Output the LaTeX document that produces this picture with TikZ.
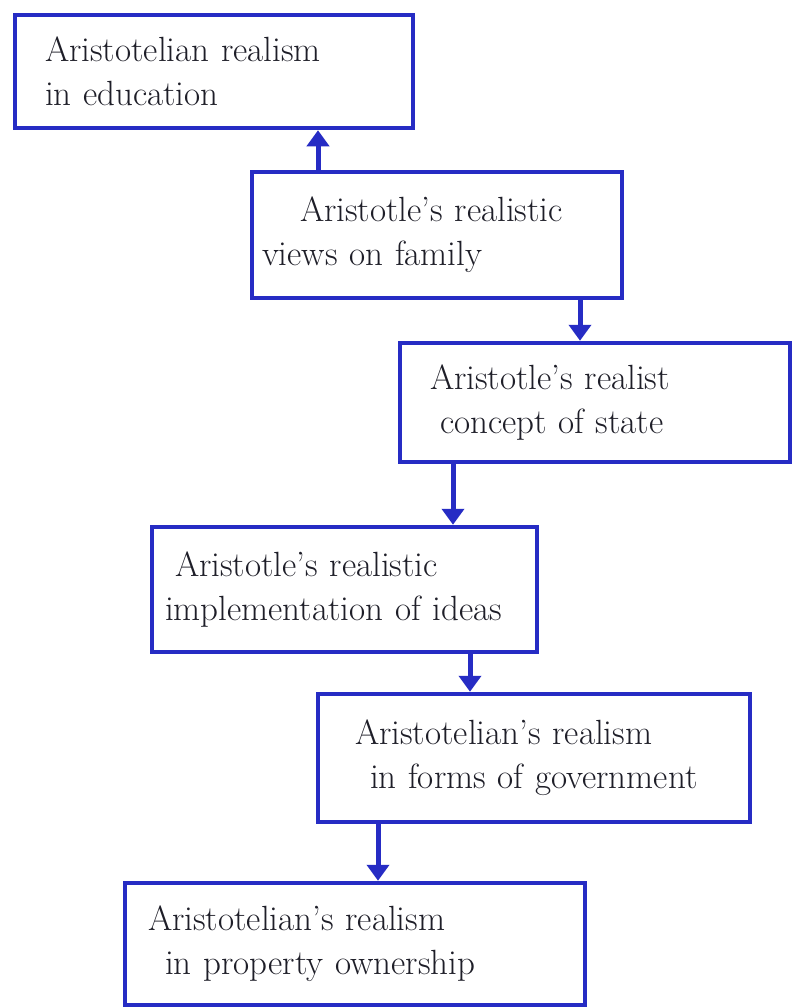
\documentclass[tikz,border=0pt]{standalone}
\usetikzlibrary{arrows.meta}
\definecolor{pen}{RGB}{38,44,196}
\definecolor{ink}{RGB}{30,30,40}
\begin{document}
\begin{tikzpicture}[x=1pt,y=-1pt,
  box/.style={draw=pen, line width=4.5pt, rectangle, inner sep=0pt, text=ink,
    font=\fontsize{35}{44}\selectfont, align=left},
  arr/.style={draw=pen, line width=5pt, -{Triangle[length=16pt,width=22pt]}}]
\useasboundingbox (0,0) rectangle (792,1007);
\fill[white] (0,0) rectangle (792,1007);
\node[box, minimum width=398pt, minimum height=113pt, text width=338pt] (b1) at (214,71.5) {Aristotelian realism\\in education};
\node[box, minimum width=370pt, minimum height=126pt, text width=350pt] (b2) at (437,235) {\hspace*{38pt}Aristotle's realistic\\views on family};
\node[box, minimum width=390pt, minimum height=119pt, text width=330pt] (b3) at (595,402.5) {Aristotle's realist\\\hspace*{10pt}concept of state};
\node[box, minimum width=385pt, minimum height=125pt, text width=359pt] (b4) at (344.5,589.5) {\hspace*{10pt}Aristotle's realistic\\implementation of ideas};
\node[box, minimum width=432pt, minimum height=128pt, text width=358pt] (b5) at (534,758) {Aristotelian's realism\\\hspace*{15pt}in forms of government};
\node[box, minimum width=460pt, minimum height=122pt, text width=414pt] (b6) at (355,944) {Aristotelian's realism\\\hspace*{17pt}in property ownership};
\draw[arr] (b2.north -| 318,0) -- (b1.south -| 318,0);
\draw[arr] (b2.south -| 580,0) -- (b3.north -| 580,0);
\draw[arr] (b3.south -| 453,0) -- (b4.north -| 453,0);
\draw[arr] (b4.south -| 470,0) -- (b5.north -| 470,0);
\draw[arr] (b5.south -| 378,0) -- (b6.north -| 378,0);
\end{tikzpicture}
\end{document}
